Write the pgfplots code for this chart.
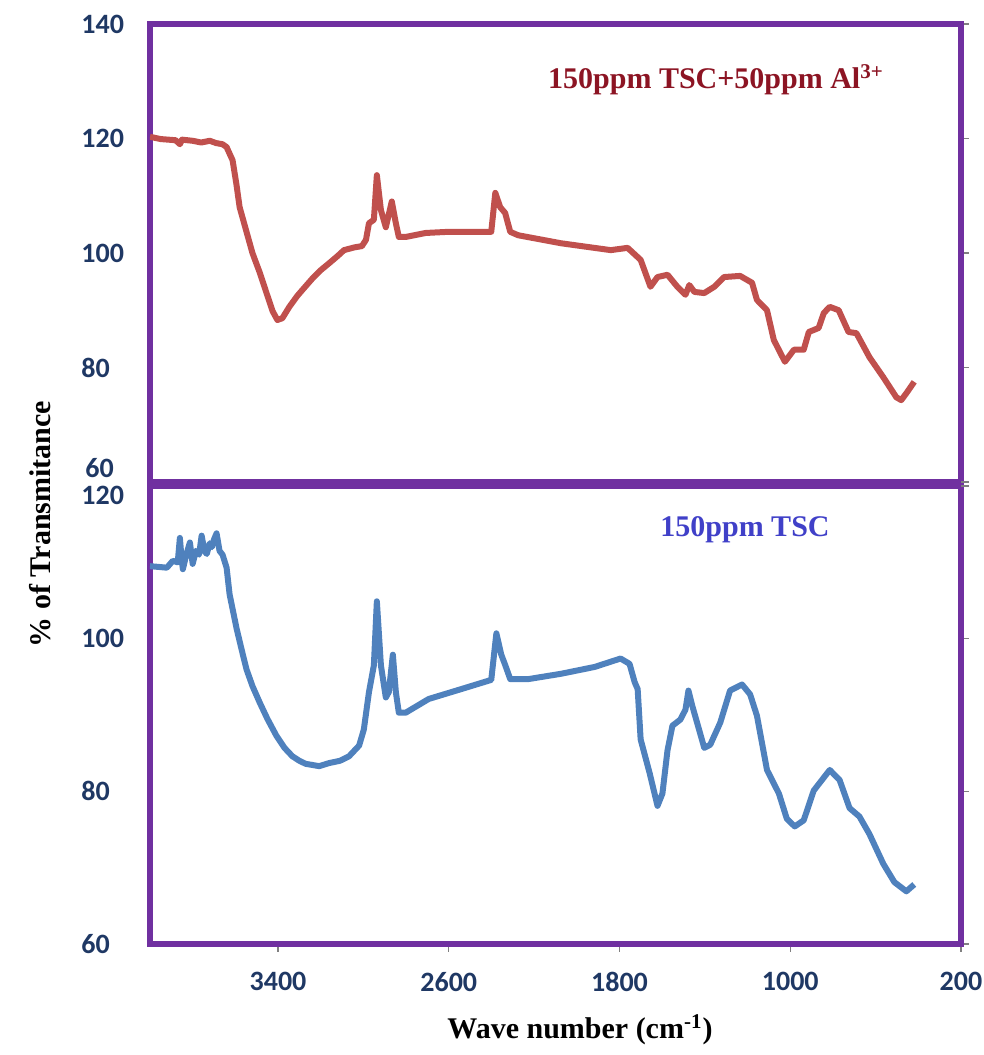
\documentclass[border=0pt]{standalone}
\usepackage{fontspec}
\setmainfont{Liberation Serif}
\newfontfamily\tickfont{Carlito}
\usepackage{pgfplots}
\pgfplotsset{compat=1.18}
\definecolor{framepurple}{RGB}{112,48,160}
\definecolor{tickblue}{RGB}{31,56,100}
\definecolor{redline}{RGB}{192,80,77}
\definecolor{blueline}{RGB}{79,129,189}
\definecolor{annred}{RGB}{140,20,35}
\definecolor{annblue}{RGB}{64,64,200}
\begin{document}
\begin{tikzpicture}
\path[use as bounding box] (0,0) rectangle (492pt,-527.5pt);
\pgfplotsset{common/.style={
  scale only axis, width=405.5pt, height=229pt,
  xmin=200, xmax=4000, x dir=reverse,
  axis line style={draw=framepurple, line width=3pt},
  tick align=outside, major tick length=4pt,
  tick style={gray, line width=0.6pt},
  ytick pos=right, yticklabel pos=left,
  ticklabel style={font=\tickfont\bfseries\fontsize{14}{14}\selectfont, text=tickblue},
  /pgf/number format/assume math mode=true,
  /pgf/number format/1000 sep={},
  yticklabel style={anchor=west, inner sep=0pt, xshift=-30.5pt},
}}
\begin{axis}[common, at={(75pt,-12pt)}, anchor=north west,
  ymin=60, ymax=140, ytick={80,100,120,140},
  extra y ticks={60}, extra y tick style={yticklabel style={yshift=7pt, xshift=2pt}},
  xtick=\empty]
\addplot[redline, line width=3pt, line join=round] coordinates {
(4000,120.3) (3950,119.9) (3880,119.7) (3860,119.0) (3850,119.8) (3800,119.6)
(3760,119.3) (3720,119.6) (3690,119.2) (3660,119.0) (3641,118.5) (3613,116.2)
(3595,112) (3580,108) (3550,104) (3520,100) (3485,96.5) (3454,93) (3425,89.8)
(3403,88.3) (3380,88.6) (3347,90.6) (3310,92.5) (3287,93.5) (3240,95.5)
(3200,97.0) (3161,98.2) (3120,99.5) (3091,100.5) (3040,101.0) (3007,101.2)
(2988,102.3) (2974,105.2) (2951,105.8)
(2937,113.6) (2918,107.5) (2895,104.5) (2867,109) (2848,105.2) (2834,102.8)
(2802,102.8) (2708,103.5) (2601,103.7) (2401,103.7) (2382,110.5) (2359,108)
(2336,107) (2312,103.7) (2275,103.1) (2074,101.7) (1841,100.5) (1762,100.9)
(1701,98.8) (1655,94.1) (1622,95.8) (1575,96.2) (1529,94.1) (1491,92.7)
(1473,94.4) (1449,93.2) (1403,93.0) (1356,94.1) (1310,95.8) (1235,96.0)
(1179,94.8) (1156,91.8) (1109,90.0) (1077,84.8) (1025,81.0) (983,83.1)
(937,83.1) (913,86.2) (867,86.9) (843,89.5) (815,90.6) (773,90.0) (727,86.2)
(690,86.0) (629,81.8) (564,78.3) (503,74.8) (480,74.3) (456,75.5) (419,77.5)
};
\end{axis}
\begin{axis}[common, at={(75pt,-243pt)}, anchor=north west,
  ymin=60, ymax=120, ytick={60,80,100},
  extra y ticks={120}, extra y tick style={yticklabel style={yshift=-4.5pt}},
  xtick={200,1000,1800,2600,3400}, xtick pos=bottom,
  xticklabel style={anchor=north, inner sep=0pt, yshift=-10pt}]
\addplot[blueline, line width=3pt, line join=round] coordinates {
(4000,109.5) (3960,109.4) (3921,109.3) (3893,110.2) (3870,110.0) (3860,113.2)
(3852,110.5) (3846,109.1) (3830,111.0) (3813,112.6) (3800,109.8) (3785,111.5)
(3770,111.0) (3758,113.5) (3745,111.5) (3734,111.1) (3720,112.5) (3710,112.0)
(3700,113.0) (3688,113.8) (3674,111.5) (3660,111.0) (3641,109.3) (3627,105.8)
(3594,101.3) (3570,98.5) (3548,96) (3520,93.8) (3487,91.7) (3450,89.5) (3408,87.3)
(3370,85.7) (3333,84.6) (3300,84.0) (3270,83.6)
(3207,83.3) (3161,83.7) (3110,84.0) (3067,84.6) (3020,86.0) (2998,88.1) (2974,93)
(2951,96.5) (2937,104.9) (2918,96.5) (2895,92.3) (2881,93) (2862,97.9)
(2848,93) (2834,90.3) (2802,90.3) (2694,92.1) (2541,93.4) (2401,94.6)
(2377,100.7) (2354,97.9) (2335,96.5) (2312,94.7) (2228,94.7) (2074,95.4)
(1916,96.3) (1795,97.4) (1753,96.7) (1729,94.3) (1715,93.4) (1701,86.8)
(1659,82.4) (1622,78.1) (1599,79.7) (1575,85.4) (1552,88.6) (1515,89.4)
(1491,90.7) (1477,93.2) (1459,91.2) (1403,85.7) (1375,86.1) (1328,89)
(1282,93.2) (1226,94) (1188,92.7) (1156,89.9) (1109,82.8) (1053,79.7)
(1016,76.4) (979,75.4) (937,76.2) (890,80.1) (815,82.8) (769,81.5)
(722,77.8) (676,76.7) (629,74.4) (564,70.5) (512,68.1) (456,66.9) (419,67.8)
};
\end{axis}
\node[font=\bfseries\fontsize{15}{15}\selectfont, text=annred] at (358pt,-40pt) {150ppm TSC+50ppm Al\textsuperscript{3+}};
\node[font=\bfseries\fontsize{15}{15}\selectfont, text=annblue] at (372.5pt,-265pt) {150ppm TSC};
\node[font=\bfseries\fontsize{15}{15}\selectfont, rotate=90] at (20pt,-262pt) {\% of Transmitance};
\node[font=\bfseries\fontsize{15}{15}\selectfont] at (290pt,-515pt) {Wave number (cm\textsuperscript{-1})};
\end{tikzpicture}
\end{document}
